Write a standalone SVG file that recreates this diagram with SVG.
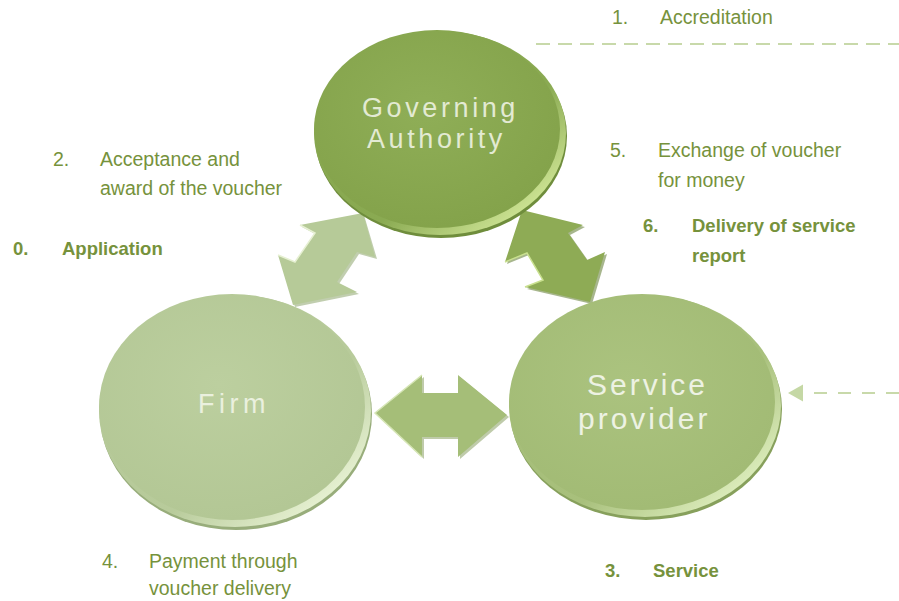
<svg xmlns="http://www.w3.org/2000/svg" width="899" height="601" viewBox="0 0 899 601">
  <defs>
    <style>
      .lbl { font-family: "Liberation Sans", Arial, sans-serif; font-size: 19.5px; fill: #76923c; }
      .bold { font-weight: bold; font-size: 18.5px; }
      .disc { font-family: "Liberation Sans", Arial, sans-serif; }
      .dash { stroke: #c8d9aa; stroke-width: 2; fill: none; }
    </style>
    <linearGradient id="rimGov" x1="0" y1="0" x2="1" y2="1">
      <stop offset="0" stop-color="#86a64d"/>
      <stop offset="0.6" stop-color="#8aaa52"/>
      <stop offset="0.85" stop-color="#c9e090"/>
      <stop offset="1" stop-color="#a9c56f"/>
    </linearGradient>
    <linearGradient id="rimSvc" x1="0" y1="0" x2="1" y2="1">
      <stop offset="0" stop-color="#a3bc76"/>
      <stop offset="0.6" stop-color="#a8c07c"/>
      <stop offset="0.85" stop-color="#d9eab8"/>
      <stop offset="1" stop-color="#b9d08f"/>
    </linearGradient>
    <linearGradient id="rimFirm" x1="0" y1="0" x2="1" y2="1">
      <stop offset="0" stop-color="#b3c796"/>
      <stop offset="0.6" stop-color="#b8cb9b"/>
      <stop offset="0.85" stop-color="#e4efcf"/>
      <stop offset="1" stop-color="#c6d9a8"/>
    </linearGradient>
    <radialGradient id="faceGov" cx="0.45" cy="0.4" r="0.6">
      <stop offset="0" stop-color="#8fae57"/>
      <stop offset="1" stop-color="#84a34b"/>
    </radialGradient>
    <radialGradient id="faceSvc" cx="0.45" cy="0.4" r="0.6">
      <stop offset="0" stop-color="#abc37f"/>
      <stop offset="1" stop-color="#a2bb75"/>
    </radialGradient>
    <radialGradient id="faceFirm" cx="0.45" cy="0.4" r="0.6">
      <stop offset="0" stop-color="#bccf9f"/>
      <stop offset="1" stop-color="#b3c795"/>
    </radialGradient>
  </defs>

  <!-- connectors: double-headed block arrows and dashed leaders -->
  <g id="connectors">
    <!-- Firm <-> Governing Authority -->
    <polygon points="364,215 377,259 359,254 339,284 359,294 295,307 280,257 297,264 317,235 302,227" fill="#8ea56d" opacity="0.55"/>
    <polygon points="363,213 375,257 357,252 337,282 357,292 293,305 278,255 295,262 315,233 300,225" fill="#b6ca98"/>
    <polyline points="300,225 315,233 295,262 278,255" fill="none" stroke="#e6f0d2" stroke-width="1.5"/>
    <!-- Governing Authority <-> Service provider -->
    <polygon points="524,212 585,227 570,235 589,262 607,254 592,304 527,289 545,282 529,255 507,264" fill="#5f7a30" opacity="0.55"/>
    <polygon points="522,210 583,225 568,233 587,260 605,252 590,302 525,287 543,280 527,253 505,262" fill="#8eab55"/>
    <polyline points="505,262 527,253 543,280 525,287" fill="none" stroke="#c9e08f" stroke-width="1.5"/>
    <!-- Firm <-> Service provider -->
    <polygon points="377,415 424,377 424,395 460,395 460,377 509,417 460,459 460,439 424,439 424,459" fill="#7f9856" opacity="0.5"/>
    <polygon points="375,413 422,375 422,393 458,393 458,375 507,415 458,457 458,437 422,437 422,457" fill="#a5be78"/>
    <polyline points="422,457 375,413 422,375" fill="none" stroke="#d6e6b6" stroke-width="1.5"/>
    <!-- dashed leaders -->
    <line class="dash" x1="536" y1="44" x2="899" y2="44" stroke-dasharray="14 8"/>
    <line class="dash" x1="899" y1="393" x2="798" y2="393" stroke-dasharray="13 11" stroke="#c5d8a5"/>
    <polygon points="788,393 803,384.5 803,401.5" fill="#c5d8a5"/>
  </g>

  <!-- Governing Authority -->
  <g id="governing-authority">
    <ellipse cx="441" cy="136" rx="126" ry="102" fill="#6f8d3c"/>
    <ellipse cx="440" cy="133" rx="126" ry="102" fill="url(#rimGov)"/>
    <ellipse cx="437" cy="129" rx="123" ry="99" fill="url(#faceGov)"/>
    <text class="disc" font-size="27" letter-spacing="3.6" fill="#e3ead3"><tspan x="362" y="117">Governing</tspan><tspan x="367" y="148">Authority</tspan></text>
  </g>

  <!-- Firm -->
  <g id="firm">
    <ellipse cx="236" cy="414" rx="136" ry="116" fill="#98ad7b"/>
    <ellipse cx="235" cy="411" rx="136" ry="116" fill="url(#rimFirm)"/>
    <ellipse cx="232" cy="407" rx="133" ry="113" fill="url(#faceFirm)"/>
    <text class="disc" x="198" y="413" font-size="27" letter-spacing="4.5" fill="#eaf0de">Firm</text>
  </g>

  <!-- Service provider -->
  <g id="service-provider">
    <ellipse cx="646" cy="409" rx="136" ry="111" fill="#87a05c"/>
    <ellipse cx="645" cy="406" rx="136" ry="111" fill="url(#rimSvc)"/>
    <ellipse cx="642" cy="402" rx="133" ry="108" fill="url(#faceSvc)"/>
    <text class="disc" font-size="30" letter-spacing="3" fill="#edf2e3"><tspan x="587" y="395">Service</tspan><tspan x="578" y="429">provider</tspan></text>
  </g>

  <!-- step labels -->
  <g id="labels">
    <text class="lbl" x="612" y="24">1.</text>
    <text class="lbl" x="660" y="24">Accreditation</text>

    <text class="lbl" x="53" y="166">2.</text>
    <text class="lbl" x="100" y="166">Acceptance and</text>
    <text class="lbl" x="100" y="195">award of the voucher</text>

    <text class="lbl bold" x="13" y="255">0.</text>
    <text class="lbl bold" x="62" y="255">Application</text>

    <text class="lbl" x="610" y="157">5.</text>
    <text class="lbl" x="658" y="157">Exchange of voucher</text>
    <text class="lbl" x="658" y="187">for money</text>

    <text class="lbl bold" x="643" y="232">6.</text>
    <text class="lbl bold" x="692" y="232">Delivery of service</text>
    <text class="lbl bold" x="692" y="262">report</text>

    <text class="lbl" x="102" y="568">4.</text>
    <text class="lbl" x="149" y="568">Payment through</text>
    <text class="lbl" x="149" y="595">voucher delivery</text>

    <text class="lbl bold" x="605" y="577">3.</text>
    <text class="lbl bold" x="653" y="577">Service</text>
  </g>
</svg>
